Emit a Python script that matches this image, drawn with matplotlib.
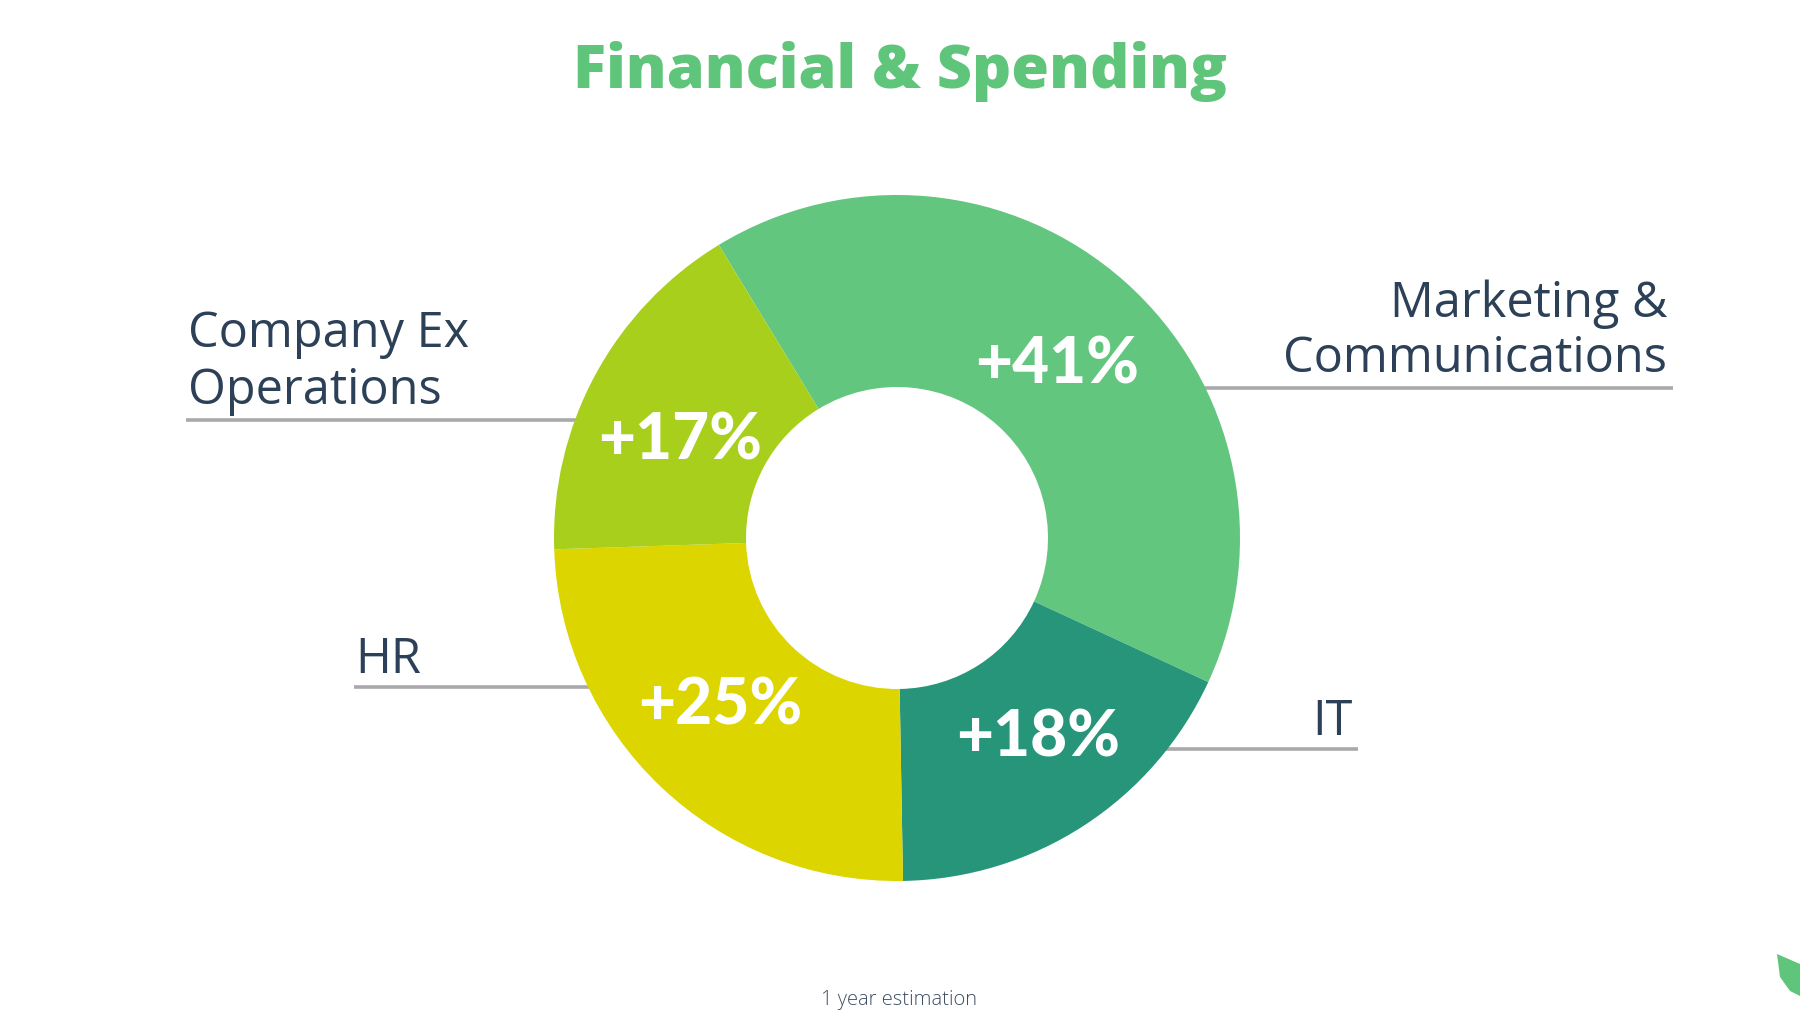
import matplotlib.pyplot as plt
from matplotlib.patches import Polygon
import numpy as np

# data
categories = ['Marketing &\nCommunications', 'IT', 'HR', 'Company Ex\nOperations']
values = [41, 18, 25, 17]
pct_labels = ['+41%', '+18%', '+25%', '+17%']
colors = ['#62C67E', '#27957A', '#DDD500', '#A9CF1D']

W, H = 1800, 1012
TEXT_COLOR = '#2C4058'
LINE_COLOR = '#A9A9AD'
GREEN = '#5FC57B'

def Y(y):
    # convert a top-down pixel row into axes units
    return H - y

fig = plt.figure(figsize=(18, 10.12), dpi=100)
ax = fig.add_axes([0, 0, 1, 1])

cx, cy = 897, Y(539)
R_out, R_in = 343, 151

# leader lines (drawn first, donut covers their inner ends)
ax.plot([1673, 1150], [Y(389), Y(389)], color=LINE_COLOR, lw=2.6, zorder=1, solid_capstyle='butt')
ax.plot([1358, 1100], [Y(750), Y(750)], color=LINE_COLOR, lw=2.6, zorder=1, solid_capstyle='butt')
ax.plot([354, 650], [Y(688), Y(688)], color=LINE_COLOR, lw=2.6, zorder=1, solid_capstyle='butt')
ax.plot([186, 620], [Y(421), Y(421)], color=LINE_COLOR, lw=2.6, zorder=1, solid_capstyle='butt')

wedges, _ = ax.pie(values, colors=colors, startangle=121.3, counterclock=False,
                   radius=R_out, center=(cx, cy),
                   wedgeprops=dict(width=R_out - R_in, linewidth=0))
for w in wedges:
    w.set_zorder(2)

# percentage labels inside each segment (small angular nudges as in the original)
nudges = [0, 3, -4, 3]
for w, lab, dn in zip(wedges, pct_labels, nudges):
    mid = np.deg2rad((w.theta1 + w.theta2) / 2 + dn)
    r = 0.70 * R_out
    ax.text(cx + r * np.cos(mid), cy + r * np.sin(mid) - 5, lab, color='white',
            fontsize=46, fontweight='black', family='Lato', ha='center', va='center', zorder=3)

# category labels
lab_kw = dict(color=TEXT_COLOR, fontsize=35, family='Open Sans', va='baseline', zorder=3)
mk = categories[0].split('\n')
ax.text(1667, Y(317), mk[0], ha='right', **lab_kw)
ax.text(1667, Y(372), mk[1], ha='right', **lab_kw)
ax.text(1353, Y(735), categories[1], ha='right', **lab_kw)
ax.text(355, Y(673), categories[2], ha='left', **lab_kw)
co = categories[3].split('\n')
ax.text(188, Y(347), co[0], ha='left', **lab_kw)
ax.text(188, Y(404), co[1], ha='left', **lab_kw)

# title and footnote
ax.text(900, Y(88), 'Financial & Spending', color=GREEN, fontsize=44, fontweight='heavy',
        family='Open Sans', ha='center', va='baseline')
ax.text(899, Y(1005), '1 year estimation', color='#3D4F63', fontsize=14.5, fontweight='light',
        family='Open Sans', ha='center', va='baseline')

# small leaf logo cut off in the bottom-right corner
leaf = Polygon([(1777, Y(955)), (1800, Y(965)), (1800, Y(997)), (1790, Y(992)),
                (1780, Y(978))], closed=True, color=GREEN, lw=0)
ax.add_patch(leaf)

ax.set_xlim(0, W)
ax.set_ylim(0, H)
ax.set_aspect('equal')
ax.axis('off')

fig.savefig('out.png', dpi=100, facecolor='white')
